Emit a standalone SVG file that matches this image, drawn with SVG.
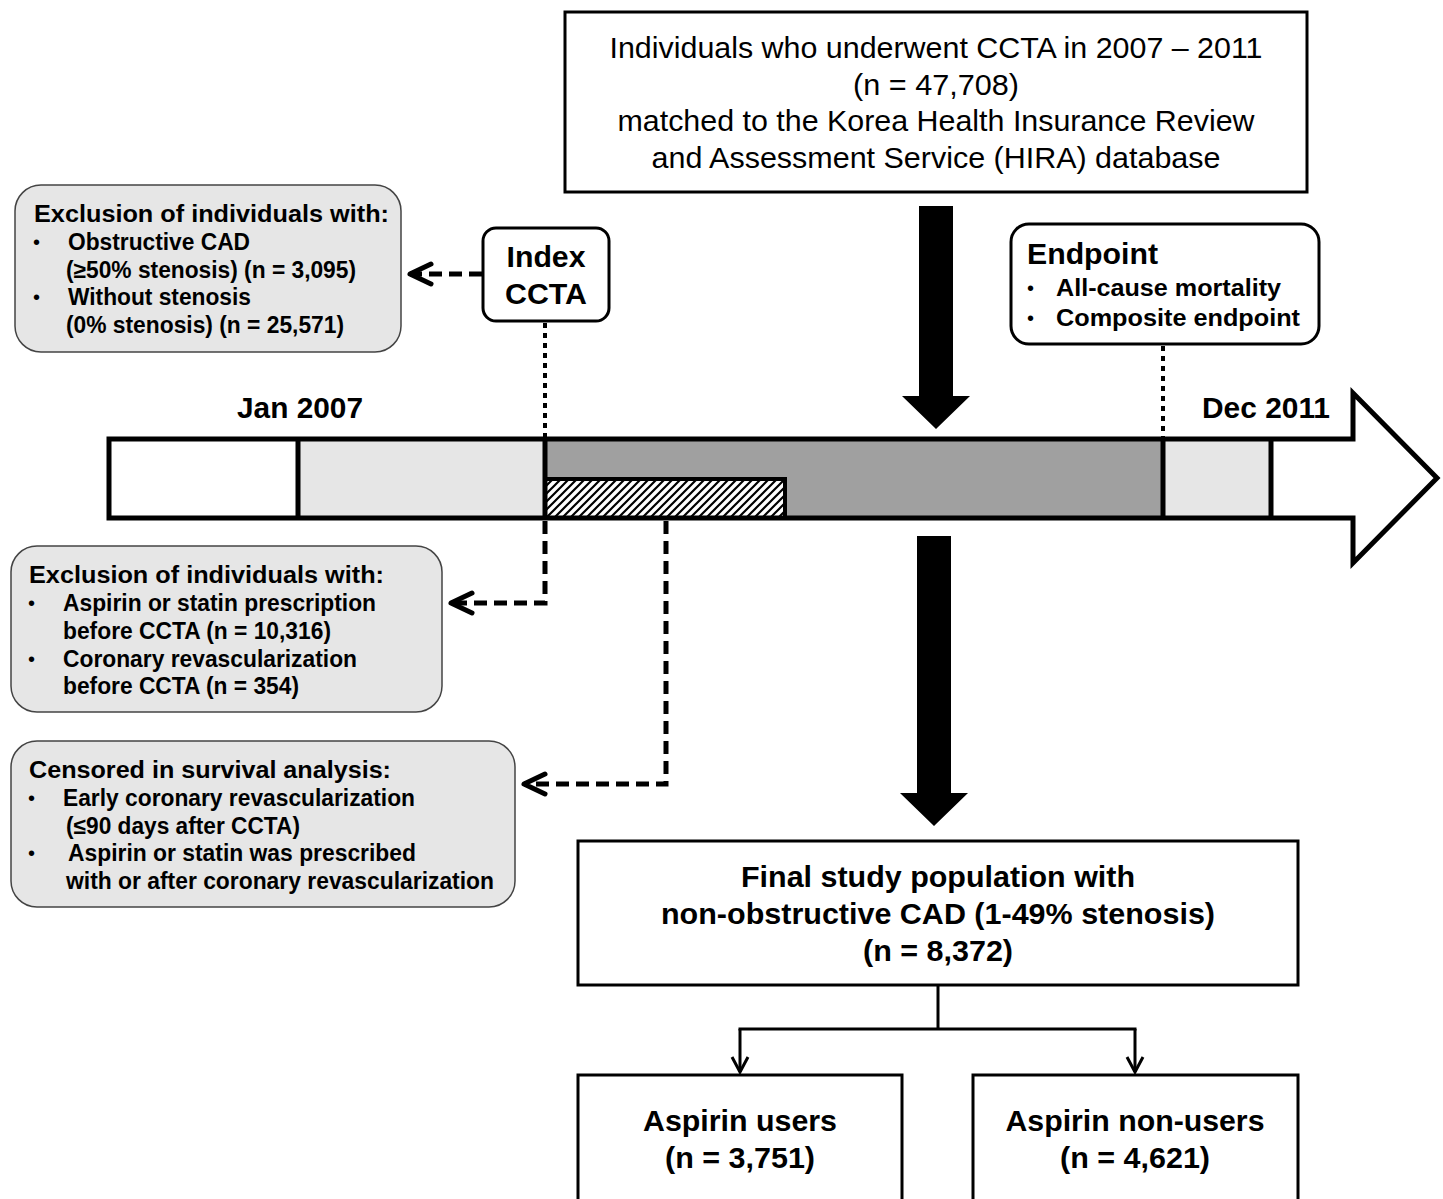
<svg xmlns="http://www.w3.org/2000/svg" width="1443" height="1199" viewBox="0 0 1443 1199">
<style>
text{font-family:"Liberation Sans",Arial,sans-serif;fill:#000}
.r{font-size:29px}
.b{font-weight:bold}
.h{font-size:29px;font-weight:bold}
.m{font-size:23px;font-weight:bold}
.bul{font-size:20px}
.gbox{fill:#e6e6e6;stroke:#444;stroke-width:1.5}
.wbox{fill:#fff;stroke:#000;stroke-width:3}
.dash{fill:none;stroke:#000;stroke-width:5;stroke-dasharray:13 7}
.dot{fill:none;stroke:#000;stroke-width:4;stroke-dasharray:5 5}
.thin{fill:none;stroke:#000;stroke-width:3}
</style>
<defs>
<pattern id="hatch" patternUnits="userSpaceOnUse" width="8" height="8">
<path d="M0,8 L8,0 M-2,2 L2,-2 M6,10 L10,6" stroke="#000" stroke-width="2.2"/>
</pattern>
<marker id="chev" markerUnits="userSpaceOnUse" markerWidth="40" markerHeight="40" viewBox="-30 -20 40 40" refX="0" refY="0" orient="auto">
<path d="M-21,-10 L0,0 L-21,10" fill="none" stroke="#000" stroke-width="5" stroke-linecap="round" stroke-linejoin="round"/>
</marker>
<marker id="chev2" markerUnits="userSpaceOnUse" markerWidth="30" markerHeight="30" viewBox="-20 -15 30 30" refX="0" refY="0" orient="auto">
<path d="M-15,-8 L0,0 L-15,8" fill="none" stroke="#000" stroke-width="3" stroke-linejoin="miter"/>
</marker>
</defs>
<rect width="1443" height="1199" fill="#fff"/>

<g id="timeline">
<polygon points="109,439 1353,439 1353,393 1437,478 1353,563 1353,518 109,518" fill="#fff"/>
<rect x="298" y="439" width="247" height="79" fill="#e6e6e6"/>
<rect x="545" y="439" width="618" height="79" fill="#a0a0a0"/>
<rect x="1163" y="439" width="108" height="79" fill="#e6e6e6"/>
<rect x="545" y="479" width="240" height="39" fill="#fff"/>
<rect x="545" y="479" width="240" height="39" fill="url(#hatch)"/>
<path d="M545,479 H785 V518" fill="none" stroke="#000" stroke-width="4"/>
<polygon points="109,439 1353,439 1353,393 1437,478 1353,563 1353,518 109,518" fill="none" stroke="#000" stroke-width="5"/>
<path d="M298,439 V518 M545,439 V518 M1163,439 V518 M1271,439 V518" stroke="#000" stroke-width="5"/>
<text class="h" x="237" y="418" textLength="126" lengthAdjust="spacingAndGlyphs">Jan 2007</text>
<text class="h" x="1202" y="418" textLength="128" lengthAdjust="spacingAndGlyphs">Dec 2011</text>
</g>

<g id="source">
<rect class="wbox" x="565" y="12" width="742" height="180"/>
<text class="r" x="936" y="58" text-anchor="middle" textLength="653" lengthAdjust="spacingAndGlyphs">Individuals who underwent CCTA in 2007 – 2011</text>
<text class="r" x="936" y="95" text-anchor="middle" textLength="166" lengthAdjust="spacingAndGlyphs">(n = 47,708)</text>
<text class="r" x="936" y="131" text-anchor="middle" textLength="637" lengthAdjust="spacingAndGlyphs">matched to the Korea Health Insurance Review</text>
<text class="r" x="936" y="168" text-anchor="middle" textLength="569" lengthAdjust="spacingAndGlyphs">and Assessment Service (HIRA) database</text>
</g>

<g id="exclusion1">
<rect class="gbox" x="15" y="185" width="386" height="167" rx="26"/>
<text class="m" x="34" y="222" textLength="355" lengthAdjust="spacingAndGlyphs">Exclusion of individuals with:</text>
<text class="bul" x="33" y="249">•</text>
<text class="m" x="68" y="250" textLength="182" lengthAdjust="spacingAndGlyphs">Obstructive CAD</text>
<text class="m" x="66" y="278" textLength="290" lengthAdjust="spacingAndGlyphs">(≥50% stenosis) (n = 3,095)</text>
<text class="bul" x="33" y="304">•</text>
<text class="m" x="68" y="305" textLength="183" lengthAdjust="spacingAndGlyphs">Without stenosis</text>
<text class="m" x="66" y="333" textLength="278" lengthAdjust="spacingAndGlyphs">(0% stenosis) (n = 25,571)</text>
</g>

<g id="index-ccta">
<rect class="wbox" x="483" y="228" width="126" height="93" rx="13"/>
<text class="h" x="546" y="267" text-anchor="middle" textLength="79" lengthAdjust="spacingAndGlyphs">Index</text>
<text class="h" x="546" y="304" text-anchor="middle" textLength="82" lengthAdjust="spacingAndGlyphs">CCTA</text>
</g>

<g id="endpoint">
<rect class="wbox" x="1011" y="224" width="308" height="120" rx="18"/>
<text class="h" x="1027" y="264" textLength="131" lengthAdjust="spacingAndGlyphs">Endpoint</text>
<text class="bul" x="1027" y="295">•</text>
<text class="m" x="1056" y="296" textLength="225" lengthAdjust="spacingAndGlyphs">All-cause mortality</text>
<text class="bul" x="1027" y="325">•</text>
<text class="m" x="1056" y="326" textLength="244" lengthAdjust="spacingAndGlyphs">Composite endpoint</text>
</g>

<g id="exclusion2">
<rect class="gbox" x="11" y="546" width="431" height="166" rx="26"/>
<text class="m" x="29" y="583" textLength="355" lengthAdjust="spacingAndGlyphs">Exclusion of individuals with:</text>
<text class="bul" x="28" y="610">•</text>
<text class="m" x="63" y="611" textLength="313" lengthAdjust="spacingAndGlyphs">Aspirin or statin prescription</text>
<text class="m" x="63" y="639" textLength="268" lengthAdjust="spacingAndGlyphs">before CCTA (n = 10,316)</text>
<text class="bul" x="28" y="666">•</text>
<text class="m" x="63" y="667" textLength="294" lengthAdjust="spacingAndGlyphs">Coronary revascularization</text>
<text class="m" x="63" y="694" textLength="236" lengthAdjust="spacingAndGlyphs">before CCTA (n = 354)</text>
</g>

<g id="censored">
<rect class="gbox" x="11" y="741" width="504" height="166" rx="26"/>
<text class="m" x="29" y="778" textLength="362" lengthAdjust="spacingAndGlyphs">Censored in survival analysis:</text>
<text class="bul" x="28" y="805">•</text>
<text class="m" x="63" y="806" textLength="352" lengthAdjust="spacingAndGlyphs">Early coronary revascularization</text>
<text class="m" x="66" y="834" textLength="234" lengthAdjust="spacingAndGlyphs">(≤90 days after CCTA)</text>
<text class="bul" x="28" y="860">•</text>
<text class="m" x="68" y="861" textLength="348" lengthAdjust="spacingAndGlyphs">Aspirin or statin was prescribed</text>
<text class="m" x="66" y="889" textLength="428" lengthAdjust="spacingAndGlyphs">with or after coronary revascularization</text>
</g>

<g id="final">
<rect class="wbox" x="578" y="841" width="720" height="144"/>
<text class="h" x="938" y="887" text-anchor="middle" textLength="394" lengthAdjust="spacingAndGlyphs">Final study population with</text>
<text class="h" x="938" y="924" text-anchor="middle" textLength="554" lengthAdjust="spacingAndGlyphs">non-obstructive CAD (1-49% stenosis)</text>
<text class="h" x="938" y="961" text-anchor="middle" textLength="150" lengthAdjust="spacingAndGlyphs">(n = 8,372)</text>
</g>

<g id="users">
<rect class="wbox" x="578" y="1075" width="324" height="140"/>
<text class="h" x="740" y="1131" text-anchor="middle" textLength="194" lengthAdjust="spacingAndGlyphs">Aspirin users</text>
<text class="h" x="740" y="1168" text-anchor="middle" textLength="150" lengthAdjust="spacingAndGlyphs">(n = 3,751)</text>
</g>

<g id="nonusers">
<rect class="wbox" x="973" y="1075" width="325" height="140"/>
<text class="h" x="1135" y="1131" text-anchor="middle" textLength="259" lengthAdjust="spacingAndGlyphs">Aspirin non-users</text>
<text class="h" x="1135" y="1168" text-anchor="middle" textLength="150" lengthAdjust="spacingAndGlyphs">(n = 4,621)</text>
</g>

<g id="connectors">
<polygon points="919,206 953,206 953,396 970,396 936,429 902,396 919,396" fill="#000"/>
<polygon points="917,536 951,536 951,793 968,793 934,826 900,793 917,793" fill="#000"/>
<path class="dash" d="M482,274 H410" marker-end="url(#chev)"/>
<path class="dot" d="M545,323 V437"/>
<path class="dot" d="M1163,346 V437"/>
<path class="dash" d="M545,521 V603 H451" marker-end="url(#chev)"/>
<path class="dash" d="M666,521 V784 H524" marker-end="url(#chev)"/>
<path class="thin" d="M938,985 V1029"/>
<path class="thin" d="M738.5,1029 H1136.5"/>
<path class="thin" d="M740,1029 V1072" marker-end="url(#chev2)"/>
<path class="thin" d="M1135,1029 V1072" marker-end="url(#chev2)"/>
</g>
</svg>
